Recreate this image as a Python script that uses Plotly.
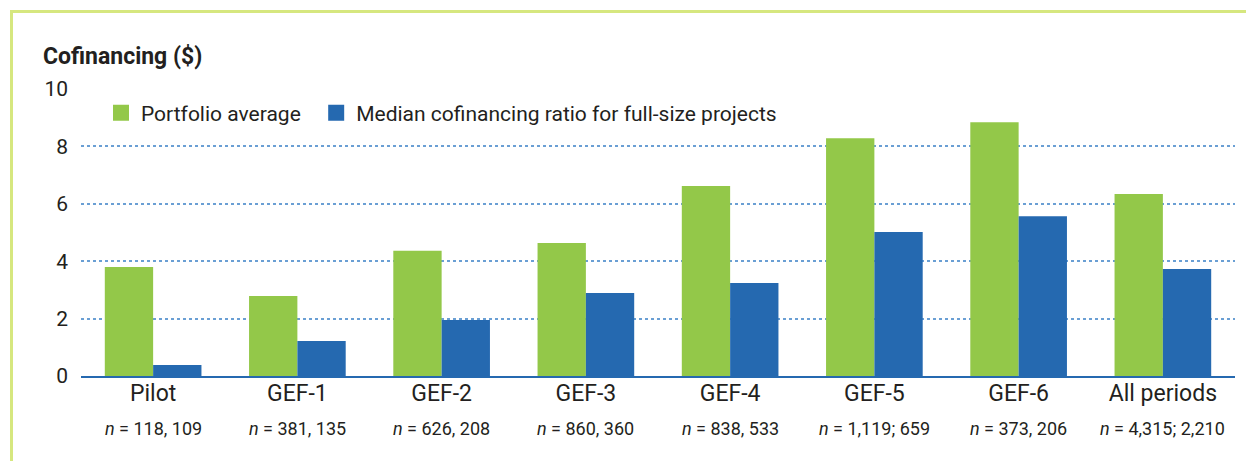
import plotly.graph_objects as go

periods = ["Pilot", "GEF-1", "GEF-2", "GEF-3", "GEF-4", "GEF-5", "GEF-6", "All periods"]
n_labels = ["118, 109", "381, 135", "626, 208", "860, 360", "838, 533",
            "1,119; 659", "373, 206", "4,315; 2,210"]
portfolio_avg = [3.80, 2.79, 4.36, 4.63, 6.62, 8.28, 8.84, 6.34]
median_ratio = [0.38, 1.22, 1.95, 2.89, 3.24, 5.02, 5.57, 3.73]
names = ["Portfolio average", "Median cofinancing ratio for full-size projects"]

# page body has an 8px margin, so work in window pixels and shift
OFF = 8
W, H = 1254 - OFF, 461 - OFF
plot_l, plot_r, plot_t, plot_b = 81, 1235, 89, 376   # window pixels
ML, MR = plot_l - OFF, W - (plot_r - OFF)
MT, MB = plot_t - OFF, H - (plot_b - OFF)
pw, ph = W - ML - MR, H - MT - MB

font = "Roboto, Open Sans, sans-serif"
green = "#93c849"
blue = "#2569b0"
txt = "#231f20"


def px_x(v):
    return (v - plot_l) / pw


def px_y(v):
    return (plot_b - v) / ph


fig = go.Figure()
fig.add_trace(go.Bar(x=periods, y=portfolio_avg, name=names[0], showlegend=False,
                     legendgroup="a", marker=dict(color=green, line=dict(width=0))))
fig.add_trace(go.Bar(x=periods, y=median_ratio, name=names[1], showlegend=False,
                     legendgroup="b", marker=dict(color=blue, line=dict(width=0))))

# legend entries with bigger square swatches
for nm, col, grp, pad in [(names[0], green, "a", "\u00a0" * 2),
                          (names[1], blue, "b", "")]:
    fig.add_trace(go.Scatter(x=[None], y=[None], mode="markers", name=nm + pad,
                             legendgroup=grp,
                             marker=dict(symbol="square", size=18, color=col)))

# n = ... labels under each category
for p, n in zip(periods, n_labels):
    fig.add_annotation(x=p, y=px_y(428), xref="x", yref="paper",
                       text="<i>n</i> = " + n, showarrow=False, yanchor="middle",
                       font=dict(size=18, color=txt, family=font))

# light green frame round the figure
fig.add_shape(type="rect", xref="paper", yref="paper",
              x0=px_x(11.5), x1=px_x(1250.5), y0=px_y(490), y1=px_y(11.5),
              line=dict(color="#d6e77f", width=3), fillcolor="rgba(0,0,0,0)",
              layer="below")

fig.add_annotation(x=px_x(43), y=px_y(56), xref="paper", yref="paper",
                   text="<b>Cofinancing ($)</b>", showarrow=False,
                   xanchor="left", yanchor="middle", xshift=-2,
                   font=dict(size=23, color=txt, family=font))

fig.update_layout(
    width=W, height=H,
    margin=dict(l=ML, r=MR, t=MT, b=MB, pad=0),
    paper_bgcolor="white", plot_bgcolor="white",
    barmode="group", bargap=0.33, bargroupgap=0,
    font=dict(family=font, color=txt),
    legend=dict(orientation="h", x=px_x(101), y=px_y(113), xanchor="left",
                yanchor="middle", font=dict(size=21, color=txt, family=font),
                bgcolor="rgba(0,0,0,0)", traceorder="normal", itemsizing="trace"),
    showlegend=True,
)
fig.update_yaxes(range=[0, 10], dtick=2, showgrid=True, gridcolor="#6a9fd4",
                 griddash="dot", gridwidth=1.5, zeroline=False,
                 tickfont=dict(size=21, color=txt), ticks="", showline=False,
                 ticklabelstandoff=12)
fig.update_xaxes(showline=True, linecolor=blue, linewidth=1.5,
                 tickfont=dict(size=23, color=txt), ticks="", showgrid=False,
                 ticklabelstandoff=-4)

fig.write_html("out.html")
